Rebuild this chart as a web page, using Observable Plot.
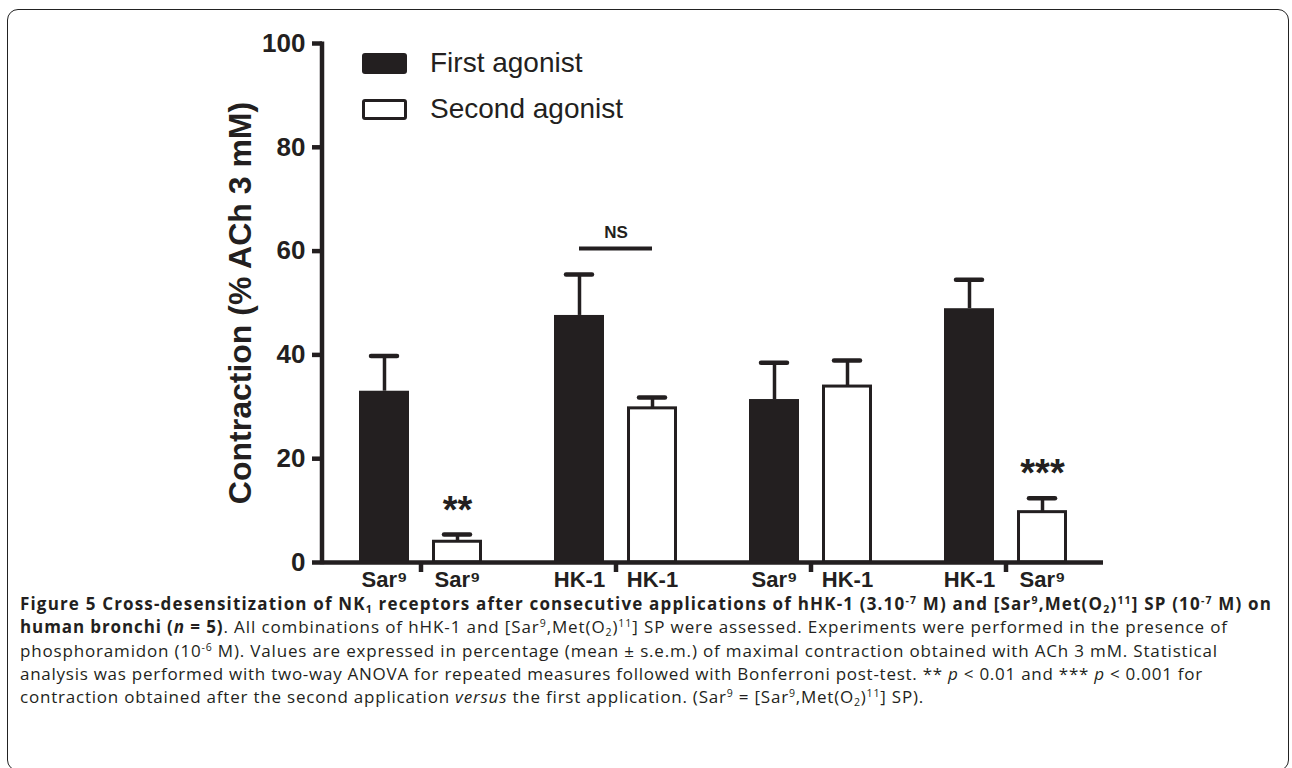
<!DOCTYPE html>
<html>
<head>
<meta charset="utf-8">
<script src="https://cdn.jsdelivr.net/npm/d3@7"></script>
<script src="https://cdn.jsdelivr.net/npm/@observablehq/plot@0.6"></script>
<style>
  html, body { margin: 0; padding: 0; background: #fff; }
  body { width: 1292px; height: 768px; position: relative; overflow: hidden; }
  #box { position: absolute; left: 7px; top: 9px; width: 1282px; height: 762px; border: 1.6px solid #222; border-radius: 11px; box-sizing: border-box; }
  #chart { position: absolute; left: 0; top: 0; }
  .leg { position: absolute; font-family: "Liberation Sans", Arial, sans-serif; font-size: 28px; color: #231f20; line-height: 1; }
  .sw { position: absolute; left: 362px; width: 45px; height: 21px; border-radius: 3px; box-sizing: border-box; }
  #caption { position: absolute; left: 20px; top: 592px; font-family: "Open Sans", sans-serif; font-size: 17px; line-height: 23.3px; color: #231f20; white-space: nowrap; }
  #caption .ln { height: 23.3px; }
  #caption sup, #caption sub { font-size: 0.62em; line-height: 0; }
  #caption sup { vertical-align: 0.6em; }
  #caption sub { vertical-align: -0.25em; }
</style>
</head>
<body>
<div id="box"></div>
<div id="chart"></div>
<div class="sw" style="top:53px;background:#231f20"></div>
<div class="leg" style="left:430px;top:49px">First agonist</div>
<div class="sw" style="top:99px;background:#fff;border:3.5px solid #231f20"></div>
<div class="leg" style="left:430px;top:95px">Second agonist</div>
<div id="caption">
<div class="ln"><span data-end="1272"><b>Figure 5 Cross-desensitization of NK<sub>1</sub> receptors after consecutive applications of hHK-1 (3.10<sup>-7</sup> M) and [Sar<sup>9</sup>,Met(O<sub>2</sub>)<sup>11</sup>] SP (10<sup>-7</sup> M) on</b></span></div>
<div class="ln"><span data-end="1228"><b>human bronchi (<i>n</i> = 5)</b>. All combinations of hHK-1 and [Sar<sup>9</sup>,Met(O<sub>2</sub>)<sup>11</sup>] SP were assessed. Experiments were performed in the presence of</span></div>
<div class="ln"><span data-end="1218">phosphoramidon (10<sup>-6</sup> M). Values are expressed in percentage (mean ± s.e.m.) of maximal contraction obtained with ACh 3 mM. Statistical</span></div>
<div class="ln"><span data-end="1203">analysis was performed with two-way ANOVA for repeated measures followed with Bonferroni post-test. ** <i>p</i> &lt; 0.01 and *** <i>p</i> &lt; 0.001 for</span></div>
<div class="ln"><span data-end="924">contraction obtained after the second application <i>versus</i> the first application. (Sar<sup>9</sup> = [Sar<sup>9</sup>,Met(O<sub>2</sub>)<sup>11</sup>] SP).</span></div>
</div>
<script>
// ---- data ----
const groups = ["Sar9-Sar9", "HK1-HK1", "Sar9-HK1", "HK1-Sar9"];
const firstLabels = ["Sar⁹", "HK-1", "Sar⁹", "HK-1"];
const secondLabels = ["Sar⁹", "HK-1", "HK-1", "Sar⁹"];
const firstMean = [33.0, 47.6, 31.4, 48.9];
const firstSem = [6.8, 7.9, 7.1, 5.6];
const secondMean = [4.0, 29.7, 33.9, 9.7];
const secondSem = [1.4, 2.1, 5.0, 2.7];
const yTicks = [0, 20, 40, 60, 80, 100];
const nsMarks = [{group: "HK1-HK1", y: 60.5, label: "NS"}];
const starMarks = [{group: "Sar9-Sar9", y: 10.0, label: "**"}, {group: "HK1-Sar9", y: 17.0, label: "***"}];
const yLabel = "Contraction (% ACh 3 mM)";

const first = groups.map((g, i) => ({group: g, label: firstLabels[i], mean: firstMean[i], top: firstMean[i] + firstSem[i]}));
const second = groups.map((g, i) => ({group: g, label: secondLabels[i], mean: secondMean[i], top: secondMean[i] + secondSem[i]}));

// ---- layout ----
const ink = "#231f20";
const W = 1292, H = 602, mL = 322, mR = 189, mT = 43, mB = 40;
const pI = 0.37;
const bw = ((W - mL - mR) / groups.length) * (1 - pI);
const barW = 50;
const dxBar = bw / 2 - barW / 2;
const capHalf = 13;

const yAxisLine = (index, scales, values, dims) => {
  const l = document.createElementNS("http://www.w3.org/2000/svg", "line");
  l.setAttribute("x1", dims.marginLeft); l.setAttribute("x2", dims.marginLeft);
  l.setAttribute("y1", scales.y(0) + 2.25); l.setAttribute("y2", scales.y(100) - 1.5);
  l.setAttribute("stroke", ink); l.setAttribute("stroke-width", 4.5);
  return l;
};

const chart = Plot.plot({
  width: W, height: H,
  marginLeft: mL, marginRight: mR, marginTop: mT, marginBottom: mB,
  style: {fontFamily: "'Liberation Sans', Arial, sans-serif", color: ink, background: "transparent", overflow: "visible"},
  x: {domain: groups, paddingInner: pI, paddingOuter: pI / 2, axis: null},
  y: {domain: [0, 100], axis: null},
  marks: [
    Plot.barY(first, {x: "group", y: "mean", fill: ink, insetRight: bw - barW}),
    Plot.barY(second, {x: "group", y: "mean", fill: "white", stroke: ink, strokeWidth: 3, insetLeft: bw - barW + 1.5, insetRight: 1.5}),
    Plot.ruleX(first, {x: "group", y1: "mean", y2: "top", dx: -dxBar, stroke: ink, strokeWidth: 3.5}),
    Plot.ruleX(second, {x: "group", y1: "mean", y2: "top", dx: dxBar, stroke: ink, strokeWidth: 3.5}),
    Plot.tickY(first, {x: "group", y: "top", insetLeft: barW / 2 - capHalf, insetRight: bw - barW / 2 - capHalf, stroke: ink, strokeWidth: 4.5, strokeLinecap: "round"}),
    Plot.tickY(second, {x: "group", y: "top", insetLeft: bw - barW / 2 - capHalf, insetRight: barW / 2 - capHalf, stroke: ink, strokeWidth: 4.5, strokeLinecap: "round"}),
    Plot.tickY(nsMarks, {x: "group", y: "y", insetLeft: barW / 2, insetRight: barW / 2, stroke: ink, strokeWidth: 4}),
    Plot.text(nsMarks, {x: "group", y: "y", text: "label", dy: -16, fontSize: 17, fontWeight: "bold", fill: ink}),
    Plot.text(starMarks, {x: "group", y: "y", text: "label", dx: dxBar, fontSize: 38, fontWeight: "bold", fill: ink}),
    Plot.text(first, {x: "group", y: () => 0, text: "label", dx: -dxBar, dy: 17, fontSize: 22, fontWeight: "bold", fill: ink}),
    Plot.text(second, {x: "group", y: () => 0, text: "label", dx: dxBar, dy: 17, fontSize: 22, fontWeight: "bold", fill: ink}),
    Plot.ruleY([0], {stroke: ink, strokeWidth: 4.5}),
    Plot.axisX({tickSize: 10, tickFormat: () => "", stroke: ink, strokeWidth: 4.5, label: null}),
    Plot.axisY({ticks: yTicks, tickSize: 10, tickPadding: 7, fontSize: 26, fontWeight: "bold", stroke: ink, strokeWidth: 4.5, fill: ink, label: null}),
    yAxisLine,
    Plot.text([yLabel], {frameAnchor: "left", textAnchor: "middle", text: d => d, rotate: -90, dx: -82, fontSize: 32, fontWeight: "bold", fill: ink})
  ]
});
document.getElementById("chart").appendChild(chart);

// fit each caption line to the reference line length via letter spacing
document.querySelectorAll("#caption span[data-end]").forEach(s => {
  const r = s.getBoundingClientRect();
  const n = s.textContent.length;
  const extra = (+s.dataset.end - r.right) / n;
  s.style.letterSpacing = extra.toFixed(3) + "px";
});
</script>
</body>
</html>
